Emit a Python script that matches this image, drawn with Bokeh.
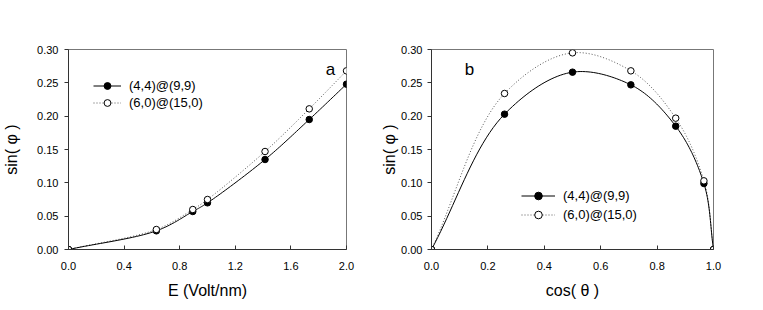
import numpy as np
from bokeh.plotting import figure
from bokeh.layouts import row
from bokeh.models import Range1d, Legend, LegendItem, Label, FixedTicker
from bokeh.embed import file_html
from bokeh.resources import INLINE

# ---- data (panel a) ----
a_x = [0.0, 0.632, 0.894, 1.0, 1.414, 1.732, 2.0]
a_s1 = [0.0, 0.028, 0.057, 0.070, 0.135, 0.195, 0.248]
a_s2 = [0.0, 0.030, 0.060, 0.075, 0.147, 0.211, 0.268]
# ---- data (panel b) ----
b_x = [0.0, 0.259, 0.5, 0.707, 0.866, 0.966, 1.0]
b_s1 = [0.0, 0.203, 0.266, 0.247, 0.185, 0.099, 0.0]
b_s2 = [0.0, 0.234, 0.295, 0.268, 0.197, 0.103, 0.0]

series_names = ["(4,4)@(9,9)", "(6,0)@(15,0)"]
a_xticks = [0.0, 0.4, 0.8, 1.2, 1.6, 2.0]
b_xticks = [0.0, 0.2, 0.4, 0.6, 0.8, 1.0]
yticks = [0.0, 0.05, 0.10, 0.15, 0.20, 0.25, 0.30]

FONT = "Liberation Sans"


def smooth(xs, ys, xspan, yspan, n=24):
    """Centripetal Catmull-Rom curve through the data points (for drawing)."""
    P = np.column_stack([np.asarray(xs) / xspan, np.asarray(ys) / yspan])
    P = np.vstack([2 * P[0] - P[1], P, 2 * P[-1] - P[-2]])
    out = []
    for i in range(1, len(P) - 2):
        p0, p1, p2, p3 = P[i - 1], P[i], P[i + 1], P[i + 2]
        t0 = 0.0
        t1 = t0 + np.linalg.norm(p1 - p0) ** 0.5
        t2 = t1 + np.linalg.norm(p2 - p1) ** 0.5
        t3 = t2 + np.linalg.norm(p3 - p2) ** 0.5
        t = np.linspace(t1, t2, n)[:, None]
        A1 = (t1 - t) / (t1 - t0) * p0 + (t - t0) / (t1 - t0) * p1
        A2 = (t2 - t) / (t2 - t1) * p1 + (t - t1) / (t2 - t1) * p2
        A3 = (t3 - t) / (t3 - t2) * p2 + (t - t2) / (t3 - t2) * p3
        B1 = (t2 - t) / (t2 - t0) * A1 + (t - t0) / (t2 - t0) * A2
        B2 = (t3 - t) / (t3 - t1) * A2 + (t - t1) / (t3 - t1) * A3
        C = (t2 - t) / (t2 - t1) * B1 + (t - t1) / (t2 - t1) * B2
        out.append(C if i == 1 else C[1:])
    C = np.vstack(out)
    return C[:, 0] * xspan, C[:, 1] * yspan


def make_panel(xs, s1, s2, xmax, xticks, xlabel, tag, tag_x, fw, bl, br,
               leg_loc, leg_gw, leg_h, ylab_standoff, ytick_standoff):
    p = figure(frame_width=fw, frame_height=200, output_backend="svg",
               toolbar_location=None,
               x_range=Range1d(0, xmax), y_range=Range1d(0, 0.30),
               min_border_left=bl, min_border_right=br, min_border_top=49,
               min_border_bottom=49)
    p.grid.visible = False
    p.outline_line_color = "#777777"
    p.outline_line_width = 1
    p.background_fill_color = "white"
    p.border_fill_color = "white"

    p.xaxis.ticker = FixedTicker(ticks=xticks)
    p.xaxis.major_label_overrides = {t: f"{t:.1f}" for t in xticks}
    p.yaxis.ticker = FixedTicker(ticks=yticks)
    p.yaxis.major_label_overrides = {t: f"{t:.2f}" for t in yticks}
    for ax in (p.xaxis, p.yaxis):
        ax.axis_line_color = "#333333"
        ax.major_tick_line_color = "#333333"
        ax.minor_tick_line_color = None
        ax.major_label_text_font = FONT
        ax.major_label_text_font_size = "11px"
        ax.major_label_text_color = "black"
        ax.axis_label_text_font = FONT
        ax.axis_label_text_font_size = "16px"
        ax.axis_label_text_font_style = "normal"
        ax.axis_label_text_color = "black"
    p.xaxis.major_tick_in = 4
    p.xaxis.major_tick_out = 0
    p.xaxis.major_label_standoff = 12
    p.xaxis.axis_label = xlabel
    p.xaxis.axis_label_standoff = 9
    p.yaxis.major_tick_in = 0
    p.yaxis.major_tick_out = 4
    p.yaxis.major_label_standoff = ytick_standoff
    p.yaxis.axis_label = "sin( \u03c6 )"
    p.yaxis.axis_label_standoff = ylab_standoff

    cx1, cy1 = smooth(xs, s1, xmax, 0.30)
    cx2, cy2 = smooth(xs, s2, xmax, 0.30)
    l2 = p.line(cx2, cy2, line_color="#555555", line_width=1, line_dash="1 2")
    l1 = p.line(cx1, cy1, line_color="black", line_width=1)
    m1 = p.scatter(xs, s1, size=6.5, fill_color="black", line_color="black", line_width=1)
    m2 = p.scatter(xs, s2, size=6.5, fill_color="white", line_color="black", line_width=1)

    legend = Legend(items=[LegendItem(label=series_names[0], renderers=[l1, m1]),
                           LegendItem(label=series_names[1], renderers=[l2, m2])],
                    location=leg_loc, orientation="vertical",
                    glyph_width=leg_gw, glyph_height=leg_h, label_height=leg_h,
                    label_standoff=8, spacing=0, padding=0, margin=0,
                    border_line_color=None, background_fill_alpha=0,
                    label_text_font=FONT, label_text_font_size="13px",
                    label_text_color="black")
    p.add_layout(legend)

    p.add_layout(Label(x=tag_x, y=0.27, text=tag, text_font=FONT, text_font_size="17px",
                       text_align="center", text_baseline="middle", text_color="black"))
    return p


pa = make_panel(a_x, a_s1, a_s2, 2.0, a_xticks, "E (Volt/nm)", "a", 1.885,
                278, 64, 32, (25, 138), 28, 17, 14, 6)
pb = make_panel(b_x, b_s1, b_s2, 1.0, b_xticks, "cos( \u03b8 )", "b", 0.135,
                282, 53, 38, (90, 25), 34, 19, 0, 5)

layout = row(pa, pb, spacing=0)
open("out.html", "w").write(file_html(layout, INLINE))
